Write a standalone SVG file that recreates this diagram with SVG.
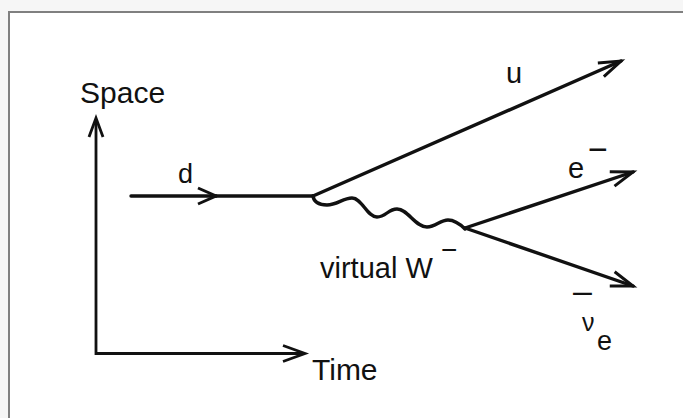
<svg xmlns="http://www.w3.org/2000/svg" width="683" height="418" viewBox="0 0 683 418">
<style>
.t{font-family:"Liberation Sans",Arial,sans-serif;fill:#111}
.ln{stroke:#111;stroke-width:3.4;fill:none;stroke-linecap:round}
.ax{stroke:#111;stroke-width:2.8;fill:none}
</style>
<defs>
<marker id="arr" markerUnits="userSpaceOnUse" viewBox="-26 -12 30 24" refX="0" refY="0" markerWidth="30" markerHeight="24" orient="auto" overflow="visible">
<path d="M-22,-7.5 L0,0 L-22,7.5" fill="none" stroke="#111" stroke-width="3"/>
</marker>
<marker id="arrs" markerUnits="userSpaceOnUse" viewBox="-26 -12 30 24" refX="0" refY="0" markerWidth="30" markerHeight="24" orient="auto" overflow="visible">
<path d="M-18,-8 L0,0 L-18,8" fill="none" stroke="#111" stroke-width="3"/>
</marker>
</defs>
<rect width="683" height="418" fill="#f6f6f6"/>
<rect x="9" y="12" width="700" height="420" fill="#fff" stroke="#808080" stroke-width="2"/>
<g id="axes">
<polyline class="ax" points="96,120 96,353.5 303,353.5"/>
<path class="ax" d="M89,137 L96,118 L103,137"/>
<path class="ax" d="M283,345.5 L305,353.5 L283,361.5"/>
<text class="t" x="80" y="103" font-size="30">Space</text>
<text class="t" x="312" y="380" font-size="30">Time</text>
</g>
<g id="connectors">
<line class="ln" x1="131" y1="196" x2="216" y2="196" marker-end="url(#arrs)"/>
<line class="ln" x1="216" y1="196" x2="313" y2="196"/>
<line class="ln" x1="313" y1="196" x2="621" y2="61" marker-end="url(#arr)"/>
<line class="ln" x1="465" y1="228" x2="633" y2="172" marker-end="url(#arr)"/>
<line class="ln" x1="465" y1="228" x2="633" y2="286" marker-end="url(#arr)"/>
<path class="ln" stroke-width="2.8" d="M313,196 C314,203 320,205 327,205 C337,205 343,198 352,198 C362,198 367,217 377,217 C386,217 388,209 397,209 C408,209 415,227 427,227 C436,227 440,220 448,220 C455,220 460,224 465,229"/>
</g>
<g id="d"><text class="t" x="178" y="183" font-size="27">d</text></g>
<g id="u"><text class="t" x="506" y="83" font-size="29">u</text></g>
<g id="e"><text class="t" font-size="29"><tspan x="568" y="178">e</tspan><tspan x="588" y="161" font-size="34">−</tspan></text></g>
<g id="W"><text class="t" font-size="29"><tspan x="320" y="278">virtual W</tspan><tspan x="441" y="259" font-size="28">−</tspan></text></g>
<g id="nu"><text class="t" font-size="25"><tspan x="573" y="302" font-size="34">–</tspan><tspan x="582" y="331">ν</tspan><tspan x="597" y="350" font-size="27">e</tspan></text></g>
</svg>
